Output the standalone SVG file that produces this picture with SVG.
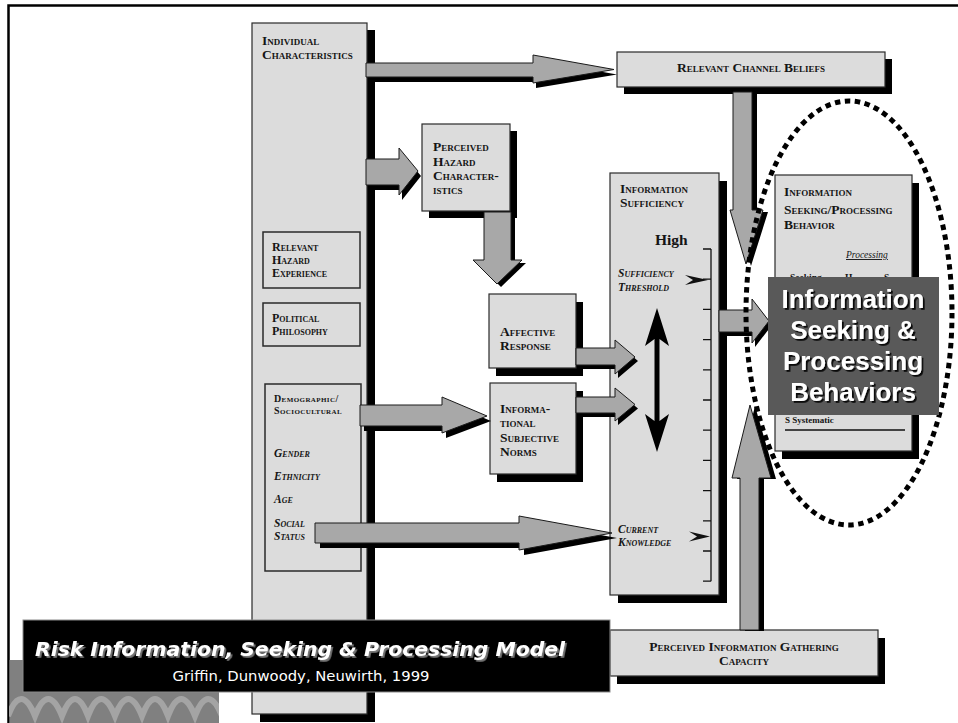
<svg xmlns="http://www.w3.org/2000/svg" xmlns:xlink="http://www.w3.org/1999/xlink" width="958" height="723" viewBox="0 0 958 723">
  <defs>
    <style>
      .box{fill:#dcdcdc;stroke:#2a2a2a;stroke-width:1.2}
      .inner{fill:#dcdcdc;stroke:#2a2a2a;stroke-width:1.5}
      .shd{fill:#000}
      .arw{fill:#a8a8a8;stroke:#1a1a1a;stroke-width:1}
      .ashd{fill:#000;stroke:none}
      .lbl{font-family:"Liberation Serif","Times New Roman",serif;font-weight:bold;font-size:13.5px;font-variant:small-caps;fill:#151515}
      .sm{font-size:12px}
      .xs{font-size:10px;letter-spacing:0.4px}
      .it{font-style:italic;font-size:11.5px}
      .iti{font-style:italic;font-size:11.5px}
      .plain{font-family:"Liberation Serif","Times New Roman",serif;fill:#151515}
      .ovl{font-family:"Liberation Sans",Arial,sans-serif;font-weight:bold;font-size:26px;text-anchor:middle;fill:#fff}
      .cap{font-family:"DejaVu Sans",Verdana,sans-serif;fill:#fff;text-anchor:middle}
    </style>
    <filter id="drop-dark" x="-10%" y="-20%" width="130%" height="150%">
      <feDropShadow dx="1.8" dy="1.8" stdDeviation="0.6" flood-color="#000" flood-opacity="0.9"/>
    </filter>
    <filter id="drop-grey" x="-5%" y="-30%" width="110%" height="160%">
      <feDropShadow dx="1.8" dy="1.8" stdDeviation="0.5" flood-color="#777" flood-opacity="1"/>
    </filter>
    <!-- arrow outlines, shared by the arrow and its drop shadow -->
    <polygon id="a-chan" points="366,63 533,63 533,55 614,69.5 533,83 533,77 366,77"/>
    <polygon id="a-haz" points="366,159 399,159 399,148 418,171 399,195 399,185 366,185"/>
    <polygon id="a-aff" points="484,212 511,212 511,260 522,260 497,284 473,260 484,260"/>
    <polygon id="a-dem" points="360,405 442,405 442,397 487,416 442,433 442,426 360,426"/>
    <polygon id="a-aff2" points="576,348 615,348 615,340 635,357 615,374 615,365 576,365"/>
    <polygon id="a-inf2" points="576,397 615,397 615,388 635,404.5 615,421 615,413 576,413"/>
    <polygon id="a-soc" points="315,523 519,523 519,516 612,533 519,550 519,543 315,543"/>
    <polygon id="a-down" points="733,92 752,92 752,210 763,210 746,264 730,210 733,210"/>
    <polygon id="a-beh" points="719,310 752,310 752,299 769,321 752,343 752,332 719,332"/>
    <polygon id="a-up" points="740,630 740,478 732,478 750,405 771,478 759,478 759,630"/>
    <clipPath id="wave-clip"><rect x="9" y="660" width="210" height="63"/></clipPath>
  </defs>

  <!-- page frame -->
  <path d="M8.5,723 V5.5 H958" fill="none" stroke="#000" stroke-width="2.5"/>
  <g id="corner-band">
    <rect x="9.5" y="660" width="209.5" height="63" fill="#808080"/>
    <path clip-path="url(#wave-clip)" fill="none" stroke="#a4a4a4" stroke-width="6"
      d="M8,716 Q21,682 35,716 Q48,682 62,716 Q75,682 88,716 Q101,682 115,716 Q128,682 142,716 Q155,682 168,716 Q181,682 195,716 Q208,682 222,716"/>
  </g>

  <!-- nodes -->
  <g id="individual-characteristics">
    <rect class="shd" x="260" y="30" width="115" height="692"/>
    <rect class="box" x="252" y="23" width="115" height="691"/>
    <text class="lbl" x="262" y="45">Individual</text>
    <text class="lbl" x="262" y="59">Characteristics</text>
  </g>
  <g id="relevant-hazard-experience">
    <rect class="inner" x="263" y="232" width="97" height="56"/>
    <text class="lbl sm" x="272" y="251">Relevant</text>
    <text class="lbl sm" x="272" y="264">Hazard</text>
    <text class="lbl sm" x="272" y="277">Experience</text>
  </g>
  <g id="political-philosophy">
    <rect class="inner" x="263" y="303" width="97" height="43"/>
    <text class="lbl sm" x="272" y="322">Political</text>
    <text class="lbl sm" x="272" y="335">Philosophy</text>
  </g>
  <g id="demographic">
    <rect class="inner" x="265" y="384" width="96" height="187"/>
    <text class="lbl xs" x="274" y="402">Demographic/</text>
    <text class="lbl xs" x="274" y="414">Sociocultural</text>
    <text class="lbl iti" x="274" y="457">Gender</text>
    <text class="lbl iti" x="274" y="480">Ethnicity</text>
    <text class="lbl iti" x="274" y="503">Age</text>
    <text class="lbl iti" x="274" y="527">Social</text>
    <text class="lbl iti" x="274" y="540">Status</text>
  </g>
  <g id="relevant-channel-beliefs">
    <rect class="shd" x="624" y="59" width="268" height="35"/>
    <rect class="box" x="617" y="52" width="268" height="35"/>
    <text class="lbl" x="751" y="72" text-anchor="middle">Relevant Channel Beliefs</text>
  </g>
  <g id="perceived-hazard">
    <rect class="shd" x="429" y="131" width="88" height="87"/>
    <rect class="box" x="422" y="124" width="88" height="87"/>
    <text class="lbl" x="433" y="151">Perceived</text>
    <text class="lbl" x="433" y="166">Hazard</text>
    <text class="lbl" x="433" y="180">Character-</text>
    <text class="lbl" x="433" y="194">istics</text>
  </g>
  <g id="affective-response">
    <rect class="shd" x="496" y="302" width="87" height="74"/>
    <rect class="box" x="489" y="294" width="87" height="74"/>
    <text class="lbl" x="500" y="336">Affective</text>
    <text class="lbl" x="500" y="350">Response</text>
  </g>
  <g id="informational-norms">
    <rect class="shd" x="497" y="391" width="86" height="91"/>
    <rect class="box" x="490" y="383" width="86" height="91"/>
    <text class="lbl" x="500" y="413">Informa-</text>
    <text class="lbl" x="500" y="427">tional</text>
    <text class="lbl" x="500" y="442">Subjective</text>
    <text class="lbl" x="500" y="456">Norms</text>
  </g>
  <g id="information-sufficiency">
    <rect class="shd" x="618" y="181" width="109" height="422"/>
    <rect class="box" x="610" y="173" width="109" height="422"/>
    <text class="lbl" x="620" y="193">Information</text>
    <text class="lbl" x="620" y="207">Sufficiency</text>
    <text class="plain" x="655" y="245" font-size="15.5" font-weight="bold">High</text>
    <path fill="none" stroke="#111" stroke-width="1.3"
      d="M711,249 V581.2 M703,249 H711 M703,279.2 H711 M703,309.4 H711 M703,339.6 H711 M703,369.8 H711 M703,400 H711 M703,430.2 H711 M703,460.4 H711 M703,490.6 H711 M703,520.8 H711 M703,551 H711 M703,581.2 H711"/>
    <text class="lbl it" x="618" y="277">Sufficiency</text>
    <text class="lbl it" x="618" y="291">Threshold</text>
    <polygon fill="#111" points="685,275 708,280 685,285 693,280"/>
    <text class="lbl it" x="618" y="533">Current</text>
    <text class="lbl it" x="618" y="546">Knowledge</text>
    <polygon fill="#111" points="689,531.5 710,536.5 689,541.5 697,536.5"/>
    <polygon fill="#000" points="657,308 669,346 659.5,339 659.5,421 669,414 657,452 645,414 654.5,421 654.5,339 645,346"/>
  </g>
  <g id="seeking-processing-behavior">
    <rect class="shd" x="782" y="183" width="137" height="276"/>
    <rect class="box" x="775" y="175" width="137" height="276"/>
    <text class="lbl" x="784" y="196">Information</text>
    <text class="lbl" x="784" y="214">Seeking/Processing</text>
    <text class="lbl" x="784" y="229">Behavior</text>
    <text class="plain" x="846" y="258" font-size="9.5" font-style="italic" text-decoration="underline">Processing</text>
    <text class="plain" x="790" y="281" font-size="9.5" font-weight="bold">Seeking</text>
    <text class="plain" x="845" y="281" font-size="9.5" font-weight="bold">H</text>
    <text class="plain" x="884" y="281" font-size="9.5" font-weight="bold">S</text>
    <text class="plain" x="785" y="423" font-size="9" font-weight="bold">S Systematic</text>
    <line x1="785" y1="430" x2="905" y2="430" stroke="#111" stroke-width="1.3"/>
  </g>
  <g id="gathering-capacity">
    <rect class="shd" x="617" y="638" width="268" height="46"/>
    <rect class="box" x="610" y="630" width="268" height="46"/>
    <text class="lbl" x="744" y="651" text-anchor="middle">Perceived Information Gathering</text>
    <text class="lbl" x="744" y="665" text-anchor="middle">Capacity</text>
  </g>

  <!-- connectors -->
  <g id="connectors">
    <use xlink:href="#a-chan" class="ashd" transform="translate(3,5)"/>
    <use xlink:href="#a-chan" class="arw"/>
    <use xlink:href="#a-haz" class="ashd" transform="translate(3,5)"/>
    <use xlink:href="#a-haz" class="arw"/>
    <use xlink:href="#a-aff" class="ashd" transform="translate(4,3)"/>
    <use xlink:href="#a-aff" class="arw"/>
    <use xlink:href="#a-dem" class="ashd" transform="translate(4,5)"/>
    <use xlink:href="#a-dem" class="arw"/>
    <use xlink:href="#a-aff2" class="ashd" transform="translate(3,4)"/>
    <use xlink:href="#a-aff2" class="arw"/>
    <use xlink:href="#a-inf2" class="ashd" transform="translate(3,4)"/>
    <use xlink:href="#a-inf2" class="arw"/>
    <use xlink:href="#a-soc" class="ashd" transform="translate(5,5)"/>
    <use xlink:href="#a-soc" class="arw"/>
    <use xlink:href="#a-down" class="ashd" transform="translate(5,2)"/>
    <use xlink:href="#a-down" class="arw"/>
    <use xlink:href="#a-beh" class="ashd" transform="translate(3,4)"/>
    <use xlink:href="#a-beh" class="arw"/>
    <use xlink:href="#a-up" class="ashd" transform="translate(5,1)"/>
    <use xlink:href="#a-up" class="arw"/>
  </g>

  <!-- highlight callout -->
  <g id="behaviors-callout">
    <ellipse cx="849" cy="313" rx="103" ry="212" fill="none" stroke="#000" stroke-width="5" stroke-dasharray="5.5 4.5"/>
    <rect x="768" y="277" width="171" height="138" fill="#595959"/>
    <g class="ovl" filter="url(#drop-dark)">
      <text x="853" y="308">Information</text>
      <text x="853" y="339">Seeking &amp;</text>
      <text x="853" y="370">Processing</text>
      <text x="853" y="401">Behaviors</text>
    </g>
  </g>

  <!-- caption banner -->
  <g id="caption">
    <rect x="23" y="620" width="587" height="72" fill="#000" stroke="#8a8a8a" stroke-width="1"/>
    <text class="cap" x="300" y="656" font-size="19" font-weight="bold" font-style="italic" filter="url(#drop-grey)" textLength="530" lengthAdjust="spacingAndGlyphs">Risk Information, Seeking &amp; Processing Model</text>
    <text class="cap" x="301" y="681" font-size="13.5" textLength="257" lengthAdjust="spacingAndGlyphs">Griffin, Dunwoody, Neuwirth, 1999</text>
  </g>
</svg>
